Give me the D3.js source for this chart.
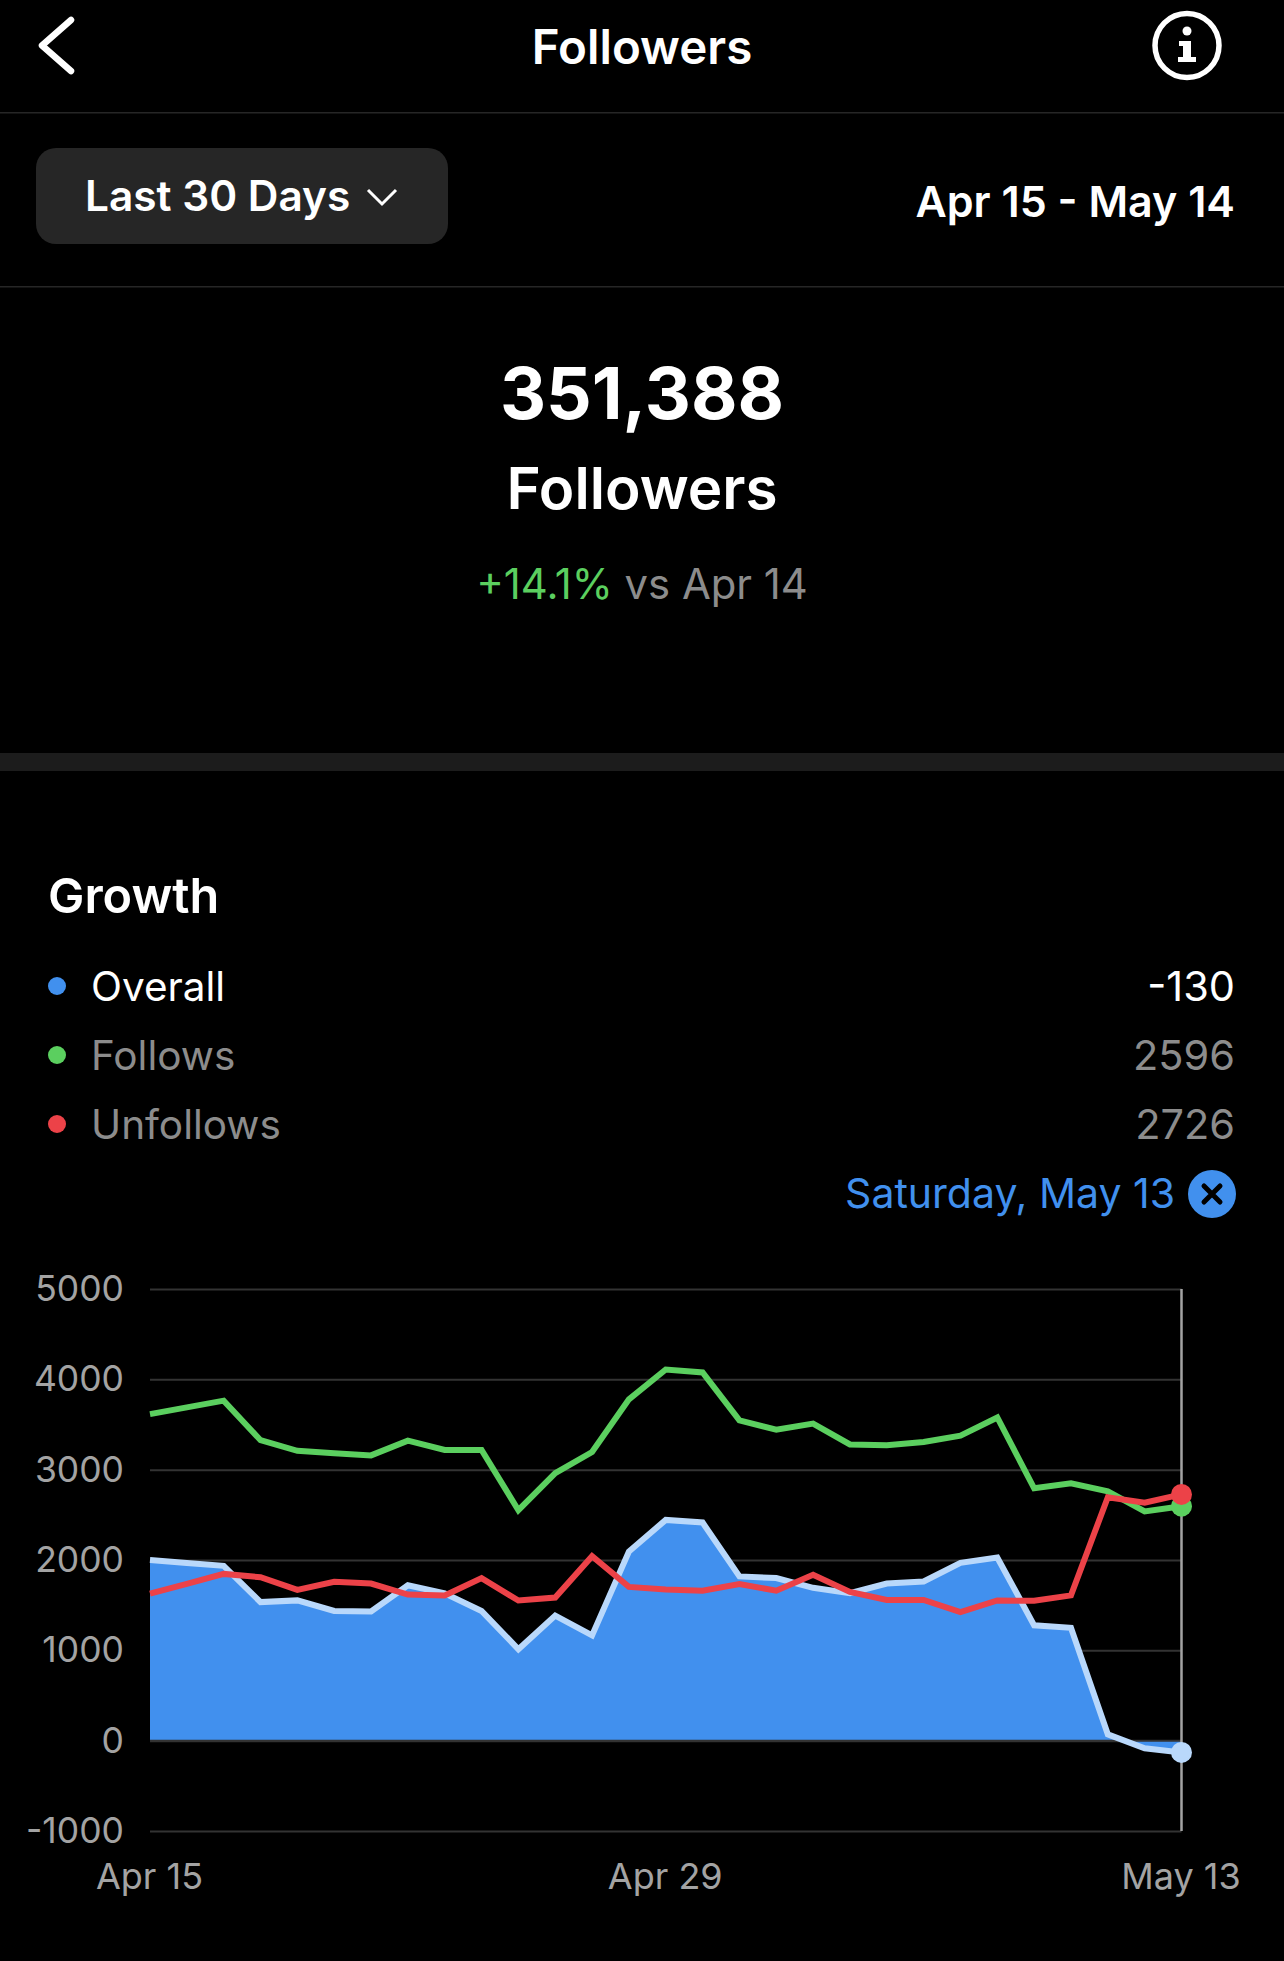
<!DOCTYPE html>
<html>
<head>
<meta charset="utf-8">
<script src="https://cdn.jsdelivr.net/npm/d3@7"></script>
<style>
html,body{margin:0;padding:0;background:#000;}
svg{display:block;}
text{font-family:Inter,Roboto,sans-serif;}
</style>
</head>
<body>
<svg id="chart" width="1284" height="1961"></svg>
<script>
const days = d3.range(29);
const overall = [2000,1968,1935,1534,1553,1436,1431,1720,1632,1436,1012,1385,1166,2094,2444,2415,1818,1800,1692,1632,1739,1762,1968,2028,1277,1249,70,-84,-130];
const follows = [3615,3690,3764,3326,3209,3181,3158,3321,3218,3218,2551,2962,3195,3778,4109,4076,3545,3442,3510,3279,3270,3307,3377,3578,2794,2850,2761,2537,2596];
const unfollows = [1627,1735,1846,1809,1669,1758,1739,1618,1608,1799,1552,1585,2042,1702,1674,1660,1735,1660,1837,1646,1557,1557,1422,1552,1548,1608,2695,2634,2726];
const yTicks = [-1000,0,1000,2000,3000,4000,5000];
const xTickIndex = [0,14,28];
const xTickLabels = ["Apr 15","Apr 29","May 13"];
const legendNames = ["Overall","Follows","Unfollows"];
const legendValues = ["-130","2596","2726"];

const BLUE="#4190EE", LIGHT="#B9D8FB", GREEN="#5BCF5F", RED="#EC4248", GRID="#333333", AXIS="#A3A3A3", MUTED="#8C8C8C";
const legendColors=[BLUE,GREEN,RED];
const svg=d3.select("#chart");

function label(x,y,str,size,weight,fill,anchor){
  return svg.append("text").attr("x",x).attr("y",y).attr("text-anchor",anchor||"start")
    .attr("dominant-baseline","central").attr("font-size",size).attr("font-weight",weight).attr("fill",fill).text(str);
}

// header
svg.append("path").attr("d","M71 20 L42 45.5 L71 71").attr("fill","none").attr("stroke","#fff").attr("stroke-width",6.5).attr("stroke-linecap","round").attr("stroke-linejoin","round");
label(642,46,"Followers",47.5,600,"#fff","middle");
svg.append("circle").attr("cx",1187).attr("cy",45.5).attr("r",32).attr("fill","none").attr("stroke","#fff").attr("stroke-width",5.5);
svg.append("circle").attr("cx",1187).attr("cy",31).attr("r",4.5).attr("fill","#fff");
svg.append("path").attr("d","M1179 41 H1191 V57 H1196 V62 H1178 V57 H1183 V46 H1179 Z").attr("fill","#fff");
svg.append("rect").attr("x",0).attr("y",112).attr("width",1284).attr("height",1.5).attr("fill","#262626");
svg.append("rect").attr("x",0).attr("y",286).attr("width",1284).attr("height",1.5).attr("fill","#262626");

// range selector
svg.append("rect").attr("x",36).attr("y",148).attr("width",412).attr("height",96).attr("rx",20).attr("fill","#262626");
label(85,195,"Last 30 Days",42.4,600,"#fff");
svg.append("path").attr("d","M368 190 L382 204 L396 190").attr("fill","none").attr("stroke","#fff").attr("stroke-width",3);
label(1235,201,"Apr 15 - May 14",43,600,"#fff","end");

// headline
label(642,393,"351,388",71.5,700,"#fff","middle");
label(642,487,"Followers",58.4,600,"#fff","middle");
const sub=svg.append("text").attr("x",642).attr("y",584).attr("text-anchor","middle").attr("dominant-baseline","central").attr("font-size",41.8).attr("fill",MUTED);
sub.append("tspan").attr("fill",GREEN).text("+14.1%");
sub.append("tspan").text(" vs Apr 14");
svg.append("rect").attr("x",0).attr("y",753).attr("width",1284).attr("height",18).attr("fill","#1C1C1C");

// legend
label(48,895,"Growth",48.6,600,"#fff");
const legendY=[986,1055,1124];
legendNames.forEach((n,i)=>{
  svg.append("circle").attr("cx",57).attr("cy",legendY[i]).attr("r",9).attr("fill",legendColors[i]);
  label(91,legendY[i],n,40.5,400,i===0?"#fff":MUTED);
  label(1235,legendY[i],legendValues[i],41.5,400,i===0?"#fff":MUTED,"end");
});
label(1175,1193,"Saturday, May 13",41,400,BLUE,"end");
svg.append("circle").attr("cx",1212).attr("cy",1194).attr("r",24).attr("fill",BLUE);
svg.append("path").attr("d","M1204 1186 L1220 1202 M1220 1186 L1204 1202").attr("stroke","#000").attr("stroke-width",5).attr("stroke-linecap","round");

// chart
const x=d3.scaleLinear().domain([0,28]).range([150,1181.5]);
const y=d3.scaleLinear().domain([-1000,5000]).range([1831,1289]);

const yAxis=svg.append("g").attr("transform","translate(150,0)")
  .call(d3.axisLeft(y).tickValues(yTicks).tickSize(-(x(28)-150)).tickPadding(26).tickFormat(d=>String(d)));
yAxis.select(".domain").remove();
yAxis.selectAll("line").attr("stroke",GRID).attr("stroke-width",2);
yAxis.selectAll("text").attr("fill",AXIS).attr("font-size",35.5).attr("font-family","Inter,Roboto,sans-serif");

const xAxis=svg.append("g").attr("transform","translate(-1,1831)")
  .call(d3.axisBottom(x).tickValues(xTickIndex).tickSize(0).tickPadding(32).tickFormat((d,i)=>xTickLabels[i]));
xAxis.select(".domain").remove();
xAxis.selectAll("text").attr("fill",AXIS).attr("font-size",36).attr("font-family","Inter,Roboto,sans-serif");

const area=d3.area().x((d,i)=>x(i)).y0(y(0)).y1(d=>y(d));
const line=d3.line().x((d,i)=>x(i)).y(d=>y(d));

svg.append("path").datum(overall).attr("d",area).attr("fill",BLUE);
svg.append("line").attr("x1",x(0)).attr("x2",x(28)).attr("y1",y(0)).attr("y2",y(0)).attr("stroke",GRID).attr("stroke-width",2);
svg.append("line").attr("x1",x(28)).attr("x2",x(28)).attr("y1",y(5000)).attr("y2",y(-1000)).attr("stroke",AXIS).attr("stroke-width",2.5);

[[overall,LIGHT],[follows,GREEN],[unfollows,RED]].forEach(([s,c])=>{
  svg.append("path").datum(s).attr("d",line).attr("fill","none").attr("stroke",c).attr("stroke-width",6).attr("stroke-linejoin","miter");
});
[[overall,LIGHT],[follows,GREEN],[unfollows,RED]].forEach(([s,c])=>{
  svg.append("circle").attr("cx",x(28)).attr("cy",y(s[28])).attr("r",10.5).attr("fill",c);
});
</script>
</body>
</html>
